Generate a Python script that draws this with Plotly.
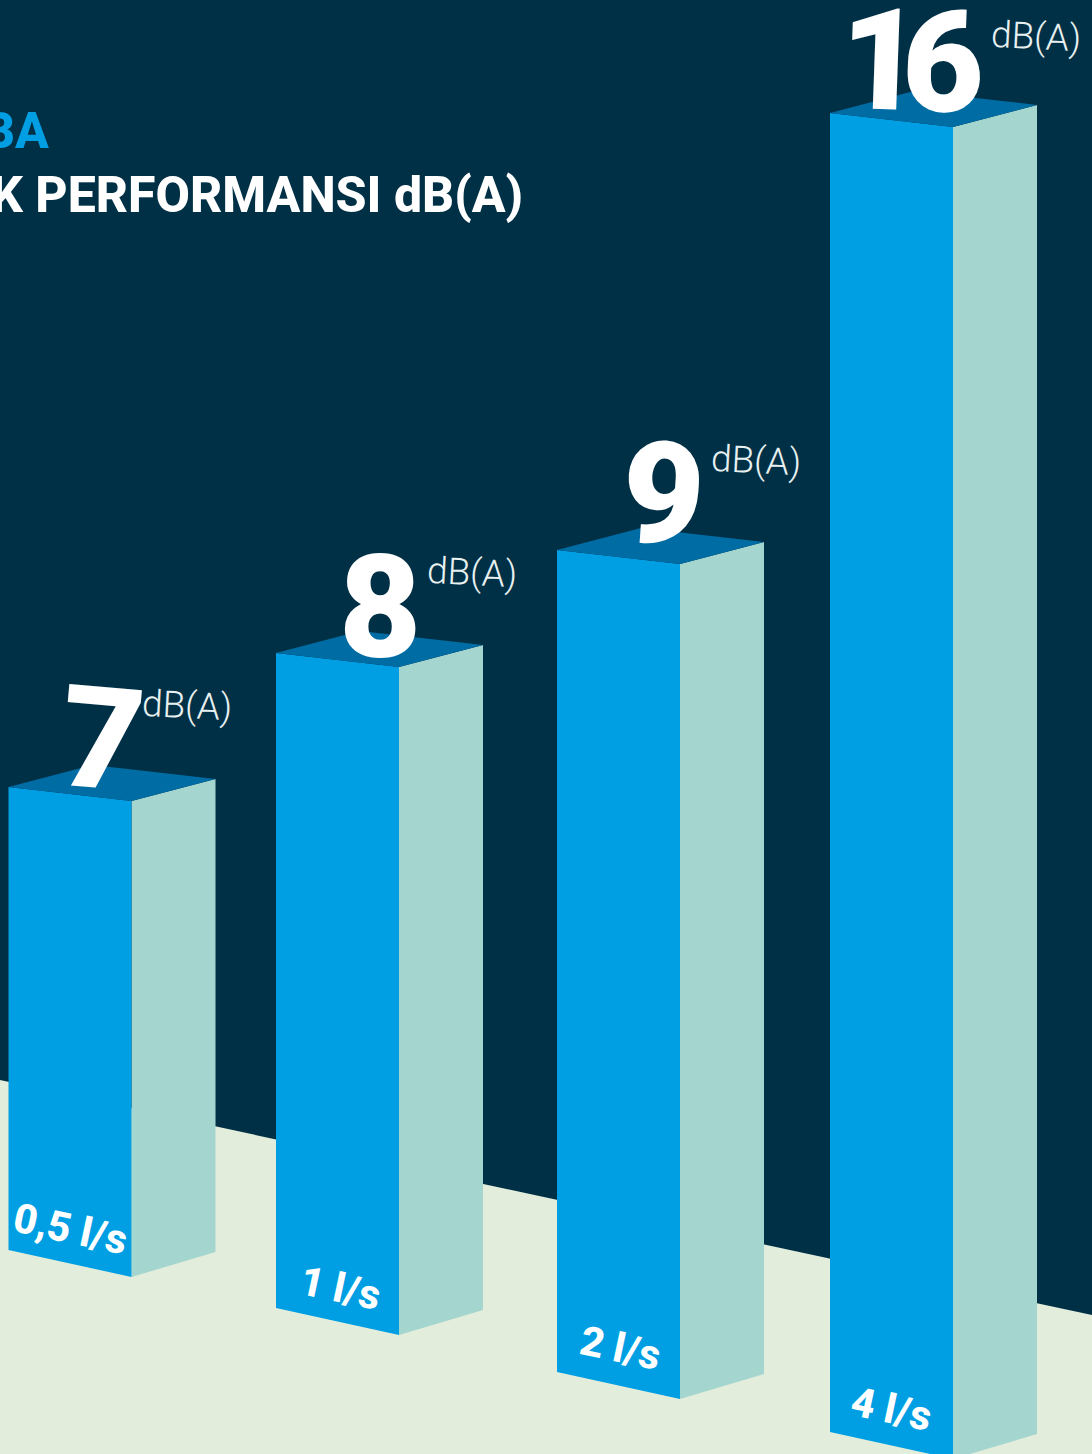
import plotly.graph_objects as go

# --- data ---
flow_labels = ["0,5 l/s", "1 l/s", "2 l/s", "4 l/s"]
db_values = [7, 8, 9, 16]
drawn_heights = [463, 655, 822, 1319]  # drawn column height, axis units
title_lines = ["BA", "K PERFORMANSI dB(A)"]
unit_label = "dB(A)"

# --- scene geometry (axis units = page pixels) ---
W, H = 1092, 1454
COL_LEFT = [8.5, 276, 557, 830]
COL_BASE = [1250, 1308, 1372, 1432]
COL_W, FRONT_DROP = 123, 27
SIDE_W, SIDE_RISE = 84, 25
TOP_RISE = 22
FLOOR_Y_LEFT, FLOOR_Y_RIGHT = 1080, 1315

NUM_POS = [(102, 739, 5), (380, 608, 0), (663, 494, 4), (910, 61, 2)]
NUM_TRACK = [0, 0, 0, -20]
UNIT_POS = [(187, 705, 3), (472, 572, 3), (756, 460, 3), (1036, 36, 3)]
FLOW_POS = [(70, 1229, 12), (340, 1288, 12), (620, 1348, 12), (891, 1409, 12)]

BG, FLOOR = "#003046", "#E2EDDB"
FRONT, SIDE, TOP = "#009FE3", "#A5D5CF", "#006CA4"
NUM_FONT = "Roboto"


def poly(xs, ys, color):
    return go.Scatter(x=xs + xs[:1], y=ys + ys[:1], mode="lines", fill="toself",
                      fillcolor=color, line=dict(width=0), hoverinfo="skip",
                      showlegend=False)


fig = go.Figure()
fig.add_trace(poly([0, W, W, 0], [FLOOR_Y_LEFT, FLOOR_Y_RIGHT, H, H], FLOOR))

for left, base, height in zip(COL_LEFT, COL_BASE, drawn_heights):
    top = base - height
    r = left + COL_W
    b = r + SIDE_W
    # side face
    fig.add_trace(poly([r, b, b, r],
                       [top + 14, top - 8,
                        base + FRONT_DROP - SIDE_RISE, base + FRONT_DROP], SIDE))
    # front face
    fig.add_trace(poly([left, r, r, left],
                       [top, top + 14, base + FRONT_DROP, base], FRONT))
    # top face
    fig.add_trace(poly([left, left + SIDE_W, b, r],
                       [top, top - TOP_RISE, top - 8, top + 14], TOP))

annotations = []


def label(x, y, text, size, color, weight, angle=0, xanchor="center"):
    annotations.append(dict(x=x, y=y, xref="x", yref="y", text=text, showarrow=False,
                            xanchor=xanchor, yanchor="middle", textangle=angle,
                            font=dict(family=NUM_FONT, size=size, color=color, weight=weight)))


for v, track, (x, y, a) in zip(db_values, NUM_TRACK, NUM_POS):
    txt = str(v) if not track else '<span style="letter-spacing:%dpx">%d</span>' % (track, v)
    label(x, y, txt, 142, "#FFFFFF", 900, a)
for (x, y, a) in UNIT_POS:
    label(x, y, unit_label, 37, "#E8F0F0", 300, a)
for t, (x, y, a) in zip(flow_labels, FLOW_POS):
    label(x, y, t, 41, "#FFFFFF", 800, a)
label(51, 131, title_lines[0], 50, FRONT, 800, xanchor="right")
label(525, 195, title_lines[1], 50, "#FFFFFF", 800, xanchor="right")

fig.update_layout(
    width=W, height=H, autosize=False,
    margin=dict(l=0, r=0, t=0, b=0, pad=0),
    paper_bgcolor=BG, plot_bgcolor=BG,
    xaxis=dict(range=[0, W], visible=False, fixedrange=True),
    yaxis=dict(range=[H, 0], visible=False, fixedrange=True),
    annotations=annotations,
    showlegend=False,
)
fig.write_html("out.html", config={"displayModeBar": False},
               post_script="document.body.style.margin='0';document.documentElement.style.background='%s';" % BG)
